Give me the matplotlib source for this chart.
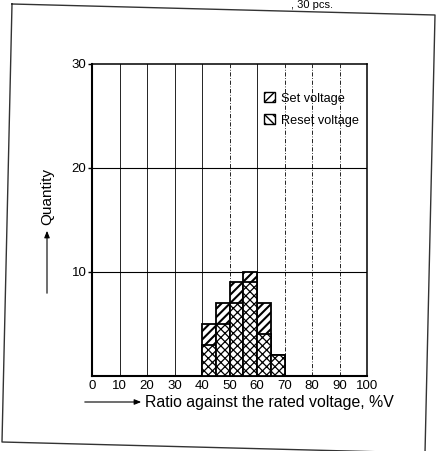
import matplotlib
matplotlib.use("Agg")
import matplotlib.pyplot as plt
from matplotlib.lines import Line2D
from matplotlib.patches import Patch, FancyArrowPatch

plt.rcParams["font.family"] = ["Liberation Sans", "DejaVu Sans"]
plt.rcParams["hatch.color"] = "black"

# histogram of 30 relays, bins of 5 %V
bin_edges = [40, 45, 50, 55, 60, 65]
bin_width = 5
set_counts = [5, 7, 9, 10, 7, 2]
reset_counts = [3, 5, 7, 9, 4, 2]

x_ticks = [0, 10, 20, 30, 40, 50, 60, 70, 80, 90, 100]
y_ticks = [10, 20, 30]
solid_grid_x = [10, 20, 30, 40, 60]
dashed_grid_x = [50, 70, 80, 90]

W, H = 437, 451


def fx(x):
    return x / W


def fy(y):
    return 1 - y / H


fig = plt.figure(figsize=(W / 100, H / 100), dpi=100)
ax = fig.add_axes([fx(92), fy(376), (367 - 92) / W, (376 - 64) / H])

ax.set_xlim(0, 100)
ax.set_ylim(0, 30)

for gx in solid_grid_x:
    ax.axvline(gx, color="black", lw=0.6, zorder=1)
for gx in dashed_grid_x:
    ax.axvline(gx, color="black", lw=0.6, ls=(0, (5, 2, 1, 2)), zorder=1)
for gy in y_ticks[:-1]:
    ax.axhline(gy, color="black", lw=0.8, zorder=1)

set_bars = ax.bar(bin_edges, set_counts, width=bin_width, align="edge",
                  facecolor="white", edgecolor="black", lw=1.3, hatch="////", zorder=2)
reset_bars = ax.bar(bin_edges, reset_counts, width=bin_width, align="edge",
                    facecolor="white", edgecolor="black", lw=1.3, hatch="xxxx", zorder=3)
for b in set_bars:
    try:
        b.set_hatch_linewidth(1.5)
    except AttributeError:
        pass
for b in reset_bars:
    try:
        b.set_hatch_linewidth(0.9)
    except AttributeError:
        pass

ax.set_xticks(x_ticks)
ax.set_yticks(y_ticks)
ax.tick_params(axis="x", length=0, pad=3, labelsize=9.5)
ax.tick_params(axis="y", length=3, width=1, pad=1, labelsize=9.5)

for side in ("left", "bottom"):
    ax.spines[side].set_linewidth(1.5)
for side in ("top", "right"):
    ax.spines[side].set_linewidth(1.1)

handles = [Patch(facecolor="white", edgecolor="black", hatch="////", lw=1.0),
           Patch(facecolor="white", edgecolor="black", hatch="\\\\\\\\", lw=1.0)]
leg = ax.legend(handles, ["Set voltage", "Reset voltage"], loc="upper left",
                bbox_to_anchor=(fx(264), fy(92)), bbox_transform=fig.transFigure,
                frameon=False, fontsize=9.2, handlelength=0.85, handleheight=0.85,
                handletextpad=0.5, labelspacing=0.75, borderpad=0, borderaxespad=0)
leg.set_zorder(5)

# axis titles with their arrows
fig.text(fx(47), fy(197), "Quantity", rotation=90, ha="center", va="center", fontsize=11)
fig.patches.append(FancyArrowPatch(
    (fx(47), fy(296)), (fx(47), fy(228)), transform=fig.transFigure,
    arrowstyle="-|>,head_length=4,head_width=1.6", color="black", lw=0.8,
    mutation_scale=1))
fig.text(fx(145), fy(403), "Ratio against the rated voltage, %V", ha="left", va="center",
         fontsize=11.4)
fig.patches.append(FancyArrowPatch(
    (fx(82), fy(402)), (fx(144), fy(402)), transform=fig.transFigure,
    arrowstyle="-|>,head_length=4,head_width=1.6", color="black", lw=0.8,
    mutation_scale=1))

# caption line at the top of the page
fig.text(fx(333), fy(8), ", 30 pcs.", ha="right", va="baseline", fontsize=8)

# page border
border_x = [12, 435, 425, 2, 12]
border_y = [4, 15, 453, 442, 4]
fig.add_artist(Line2D([fx(v) for v in border_x], [fy(v) for v in border_y],
                      transform=fig.transFigure, color="#333333", lw=1.0))

fig.savefig("out.png", dpi=100)
